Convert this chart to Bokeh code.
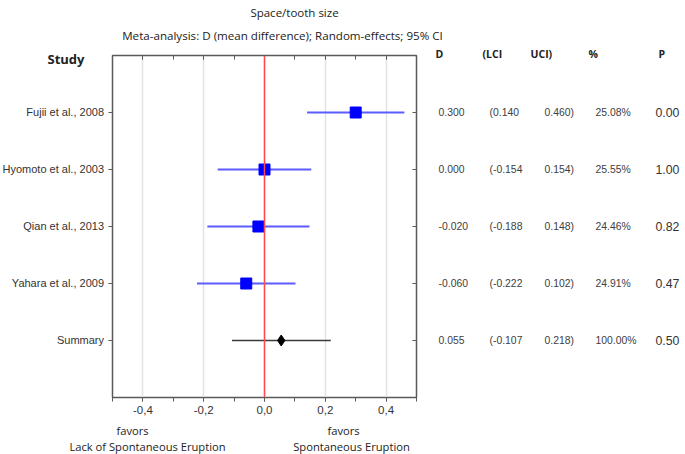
from bokeh.plotting import figure
from bokeh.layouts import column, row
from bokeh.models import (ColumnDataSource, Range1d, FixedTicker, LinearAxis, Span,
                          CustomJSTickFormatter)
from bokeh.core.properties import value
from bokeh.embed import file_html
from bokeh.resources import INLINE

# ---- data ----
studies = ["Fujii et al., 2008", "Hyomoto et al., 2003", "Qian et al., 2013", "Yahara et al., 2009"]
d_vals = [0.300, 0.000, -0.020, -0.060]
lci_vals = [0.140, -0.154, -0.188, -0.222]
uci_vals = [0.460, 0.154, 0.148, 0.102]
weights = [25.08, 25.55, 24.46, 24.91]
p_vals = [0.00, 1.00, 0.82, 0.47]

summary_label = "Summary"
summary_d = 0.055
summary_lci = -0.107
summary_uci = 0.218
summary_weight = 100.00
summary_p = 0.50

x_major = [-0.4, -0.2, 0.0, 0.2, 0.4]
x_minor = [-0.5, -0.4, -0.3, -0.2, -0.1, 0.0, 0.1, 0.2, 0.3, 0.4, 0.5]

title_text = "Space/tooth size"
subtitle_text = "Meta-analysis: D (mean difference); Random-effects; 95% CI"
study_header = "Study"
headers = ["D", "(LCI", "UCI)", "%", "P"]
left_caption = ["favors", "Lack of Spontaneous Eruption"]
right_caption = ["favors", "Spontaneous Eruption"]

# ---- sources ----
rows = list(range(1, len(studies) + 1))
study_src = ColumnDataSource(dict(row=rows, d=d_vals, lci=lci_vals, uci=uci_vals))
sum_row = len(studies) + 1
sum_src = ColumnDataSource(dict(row=[sum_row], d=[summary_d], lci=[summary_lci], uci=[summary_uci]))

all_rows = rows + [sum_row]
tab_src = ColumnDataSource(dict(
    row=all_rows,
    name=studies + [summary_label],
    d_txt=[f"{v:.3f}" for v in d_vals + [summary_d]],
    lci_txt=[f"({v:.3f}" for v in lci_vals + [summary_lci]],
    uci_txt=[f"{v:.3f})" for v in uci_vals + [summary_uci]],
    w_txt=[f"{v:.2f}%" for v in weights + [summary_weight]],
    p_txt=[f"{v:.2f}" for v in p_vals + [summary_p]],
))

TXT = "#333333"
FRAME = "#5a5a5a"


def blank_fig(w, h, xr, yr):
    f = figure(width=w, height=h, output_backend="svg", toolbar_location=None,
               x_range=xr, y_range=yr, x_axis_location=None, y_axis_location=None,
               min_border=0, min_border_left=0, min_border_right=0,
               min_border_top=0, min_border_bottom=0, frame_align=False)
    f.outline_line_color = None
    f.grid.visible = False
    f.background_fill_color = "white"
    f.border_fill_color = "white"
    return f


# ---- layout geometry (pixels) ----
W, H = 685, 454
TOP_H, MID_H, BOT_H = 48, 374, 32
L_W, M_W = 104, 321
R_W = W - L_W - M_W
# row-unit range for side panels matching the main frame (frame top at 55, 57 px per row)
side_y = Range1d(6.4386, -0.1228)

# ---- top (titles) ----
top = blank_fig(W, TOP_H, Range1d(0, W), Range1d(TOP_H, 0))
top.text(x=[294], y=[12], text=[title_text], text_align="center", text_baseline="middle",
         text_font=value("Open Sans"), text_font_size="11.5px", text_color="#222222")
top.text(x=[282], y=[35], text=[subtitle_text], text_align="center", text_baseline="middle",
         text_font=value("Open Sans"), text_font_size="11.6px", text_color="#222222")

# ---- left (study names) ----
left = blank_fig(L_W, MID_H, Range1d(0, L_W), side_y)
left.text(x=[47], y=[0.053], text=[study_header], text_align="left", text_baseline="middle",
          text_font=value("Open Sans"), text_font_size="13px", text_font_style="bold",
          text_color="#222222")
left.text(x=L_W - 0.5, y="row", text="name", source=tab_src, text_align="right",
          text_baseline="middle", text_font=value("Liberation Sans"), text_font_size="11px",
          text_color=TXT)

# ---- main forest plot ----
p = figure(width=M_W, height=MID_H, output_backend="svg", toolbar_location=None,
           x_range=Range1d(-0.5, 0.5), y_range=Range1d(6, 0),
           x_axis_location=None, y_axis_location=None,
           min_border_left=8, min_border_right=9, min_border_top=7, min_border_bottom=25,
           frame_align=False)
p.outline_line_color = FRAME
p.outline_line_width = 1.5
p.background_fill_color = "white"
p.border_fill_color = "white"

xb = LinearAxis(ticker=FixedTicker(ticks=x_major, minor_ticks=x_minor),
                formatter=CustomJSTickFormatter(code="return tick.toFixed(1).replace('.', ',');"))
xb.axis_line_color = FRAME
xb.major_tick_in = 0
xb.major_tick_out = 4
xb.minor_tick_in = 0
xb.minor_tick_out = 4
xb.major_tick_line_color = FRAME
xb.minor_tick_line_color = FRAME
xb.major_label_text_font = "Liberation Sans"
xb.major_label_text_font_size = "11.5px"
xb.major_label_text_color = TXT
xb.major_label_standoff = 4
p.add_layout(xb, "below")

xt = LinearAxis(ticker=FixedTicker(ticks=x_major, minor_ticks=x_minor),
                formatter=CustomJSTickFormatter(code="return '';"))
xt.axis_line_color = FRAME
xt.major_tick_in = 4
xt.major_tick_out = 0
xt.minor_tick_in = 4
xt.minor_tick_out = 0
xt.major_tick_line_color = FRAME
xt.minor_tick_line_color = FRAME
xt.major_label_text_font_size = "0px"
xt.major_label_standoff = 0
p.add_layout(xt, "above")

yl = LinearAxis(ticker=FixedTicker(ticks=all_rows, minor_ticks=[]),
                formatter=CustomJSTickFormatter(code="return '';"))
yl.axis_line_color = FRAME
yl.major_tick_in = 0
yl.major_tick_out = 4
yl.minor_tick_line_color = None
yl.major_tick_line_color = FRAME
yl.major_label_text_font_size = "0px"
yl.major_label_standoff = 0
p.add_layout(yl, "left")

yr = LinearAxis(ticker=FixedTicker(ticks=all_rows, minor_ticks=[]),
                formatter=CustomJSTickFormatter(code="return '';"))
yr.axis_line_color = FRAME
yr.major_tick_in = 4
yr.major_tick_out = 0
yr.minor_tick_line_color = None
yr.major_tick_line_color = FRAME
yr.major_label_text_font_size = "0px"
yr.major_label_standoff = 0
p.add_layout(yr, "right")

p.xgrid.ticker = FixedTicker(ticks=x_major)
p.xgrid.grid_line_color = "#e2e2e2"
p.xgrid.grid_line_width = 1.5
p.ygrid.grid_line_color = None

p.add_layout(Span(location=0, dimension="height", line_color="#ff4a4a", line_width=1.5))

p.segment(x0="lci", x1="uci", y0="row", y1="row", source=study_src,
          line_color="#5c5cff", line_width=2)
p.scatter(x="d", y="row", source=study_src, marker="square", size=11,
          fill_color="#0000ff", line_color="#0000ff")
p.segment(x0="lci", x1="uci", y0="row", y1="row", source=sum_src,
          line_color="#3a3a3a", line_width=1.5)
p.scatter(x="d", y="row", source=sum_src, marker="diamond", size=11,
          fill_color="black", line_color="black")

# ---- right (table) ----
right = blank_fig(R_W, MID_H, Range1d(L_W + M_W, W), side_y)
head_x = [435, 482, 530, 588, 658]
right.text(x=head_x, y=[-0.035] * len(headers), text=headers, text_align="left",
           text_baseline="middle", text_font=value("Open Sans"), text_font_size="10.5px",
           text_font_style="bold", text_color="#222222")
for cx, field in zip([438, 489, 544, 595], ["d_txt", "lci_txt", "uci_txt", "w_txt"]):
    right.text(x=cx, y="row", text=field, source=tab_src, text_align="left",
               text_baseline="middle", text_font=value("Liberation Sans"),
               text_font_size="10.4px", text_color="#404040")
right.text(x=655, y="row", text="p_txt", source=tab_src, text_align="left",
           text_baseline="middle", text_font=value("Liberation Sans"),
           text_font_size="12.3px", text_color=TXT)

# ---- bottom (captions) ----
bot = blank_fig(W, BOT_H, Range1d(0, W), Range1d(BOT_H, 0))
bot.text(x=[132, 147], y=[8, 24], text=left_caption, text_align="center", text_baseline="middle",
         text_font=value("Open Sans"), text_font_size="11.2px", text_color="#222222")
bot.text(x=[343, 351], y=[8, 24], text=right_caption, text_align="center", text_baseline="middle",
         text_font=value("Open Sans"), text_font_size="11.2px", text_color="#222222")

layout = column(top, row(left, p, right), bot)
open("out.html", "w").write(file_html(layout, INLINE))
